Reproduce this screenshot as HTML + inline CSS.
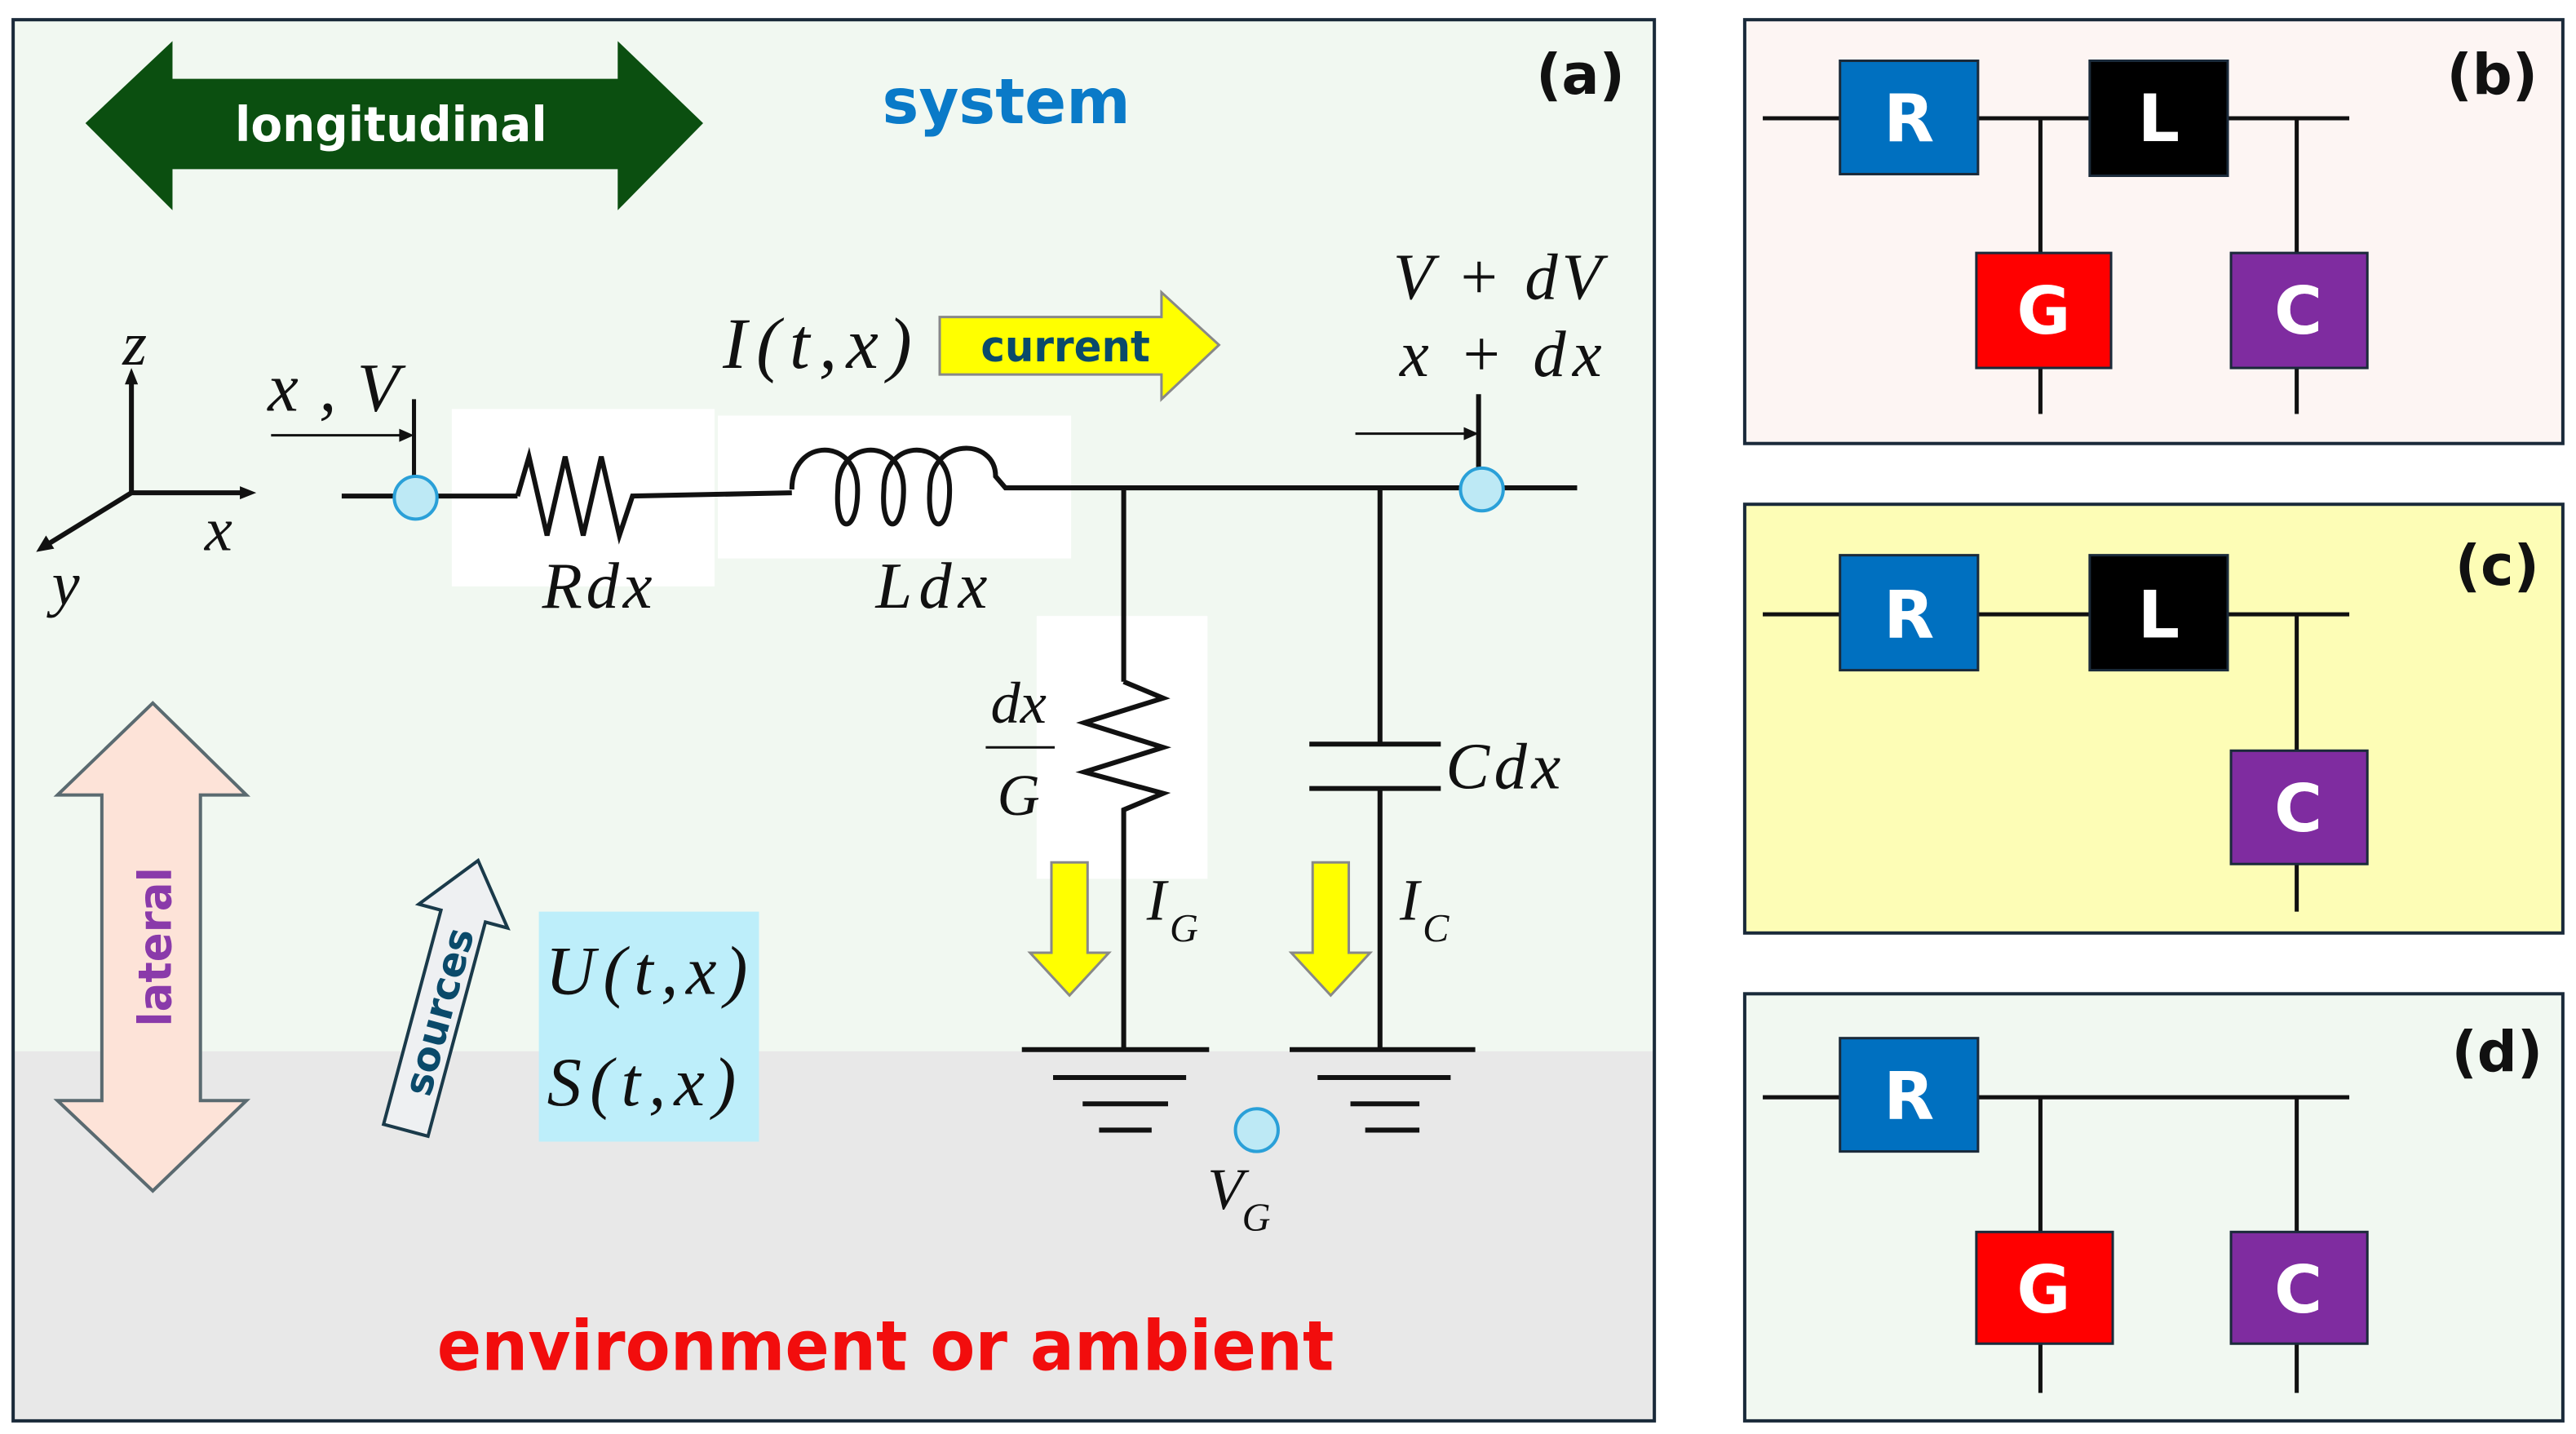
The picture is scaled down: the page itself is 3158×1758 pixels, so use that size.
<!DOCTYPE html>
<html><head><meta charset="utf-8"><style>
html,body{margin:0;padding:0;background:#fff;}
svg{display:block;}
.m{font-family:"Liberation Serif",serif;font-style:italic;fill:#111;}
.b{font-family:"DejaVu Sans","Liberation Sans",sans-serif;font-weight:bold;}
</style></head><body>
<svg width="3158" height="1758" viewBox="0 0 1568 873" preserveAspectRatio="none" xmlns="http://www.w3.org/2000/svg">
<rect width="1568" height="873" fill="#fff"/>
<rect x="8" y="12" width="999" height="853" fill="#f1f8f1"/>
<rect x="8" y="640" width="999" height="225" fill="#e8e8e8"/>
<rect x="8" y="12" width="999" height="853" fill="none" stroke="#1a2a3a" stroke-width="2"/>
<polygon points="52,75 105,25 105,48 376,48 376,25 428,75 376,128 376,103 105,103 105,128" fill="#0b4f10"/>
<text x="143" y="86" class="b" font-size="29" fill="#fff" textLength="190" lengthAdjust="spacingAndGlyphs">longitudinal</text>
<text x="537" y="75" class="b" font-size="38" fill="#0a7ac8" textLength="151" lengthAdjust="spacingAndGlyphs">system</text>
<text x="962" y="57" text-anchor="middle" class="b" font-size="34" fill="#111">(a)</text>
<g stroke="#111" stroke-width="3" fill="none">
<line x1="80" y1="300" x2="80" y2="230"/><line x1="80" y1="300" x2="150" y2="300"/><line x1="80" y1="300" x2="28" y2="332"/>
</g>
<polygon points="80,224 76,234 84,234" fill="#111"/><polygon points="156,300 146,296 146,304" fill="#111"/><polygon points="22,336 28,326 33,334" fill="#111"/>
<text x="82" y="222" class="m" font-size="38" text-anchor="middle">z</text>
<text x="133" y="335" class="m" font-size="38" text-anchor="middle">x</text>
<text x="40" y="368" class="m" font-size="38" text-anchor="middle">y</text>
<text x="163" y="250" class="m" font-size="42" textLength="80" lengthAdjust="spacing">x,V</text>
<line x1="165" y1="265" x2="246" y2="265" stroke="#111" stroke-width="1.5"/><polygon points="252,265 243,261 243,269" fill="#111"/>
<line x1="252" y1="243" x2="252" y2="300" stroke="#111" stroke-width="2.5"/>
<rect x="275" y="249" width="160" height="108" fill="#fff"/>
<rect x="437" y="253" width="215" height="87" fill="#fff"/>
<rect x="631" y="375" width="104" height="160" fill="#fff"/>
<g stroke="#111" stroke-width="3" fill="none">
<line x1="208" y1="302" x2="315" y2="302"/>
<polyline points="315,302 322,278 333,326 344,278 355,326 366,278 377,326 385,302 482,300"/>
<path d="M482,298 C482,266 522,266 522,298 C522,326 508,326 510,298 C510,266 550,266 550,298 C550,326 536,326 538,298 C538,266 578,266 578,298 C578,326 564,326 566,298 C566,266 606,266 606,290 L612,297 L960,297"/>
<line x1="684" y1="297" x2="684" y2="415"/>
<polyline points="684,415 708,425 660,440 708,455 660,470 708,483 684,493 684,638"/>
<line x1="840" y1="297" x2="840" y2="453"/>
<line x1="797" y1="453" x2="877" y2="453"/><line x1="797" y1="480" x2="877" y2="480"/>
<line x1="840" y1="480" x2="840" y2="638"/>
<line x1="622" y1="639" x2="736" y2="639"/><line x1="641" y1="656" x2="722" y2="656"/><line x1="659" y1="672" x2="711" y2="672"/><line x1="669" y1="688" x2="701" y2="688"/>
<line x1="785" y1="639" x2="898" y2="639"/><line x1="802" y1="656" x2="883" y2="656"/><line x1="822" y1="672" x2="864" y2="672"/><line x1="831" y1="688" x2="864" y2="688"/>
<line x1="900" y1="240" x2="900" y2="298"/>
</g>
<line x1="825" y1="264" x2="894" y2="264" stroke="#111" stroke-width="1.5"/><polygon points="900,264 891,260 891,268" fill="#111"/>
<circle cx="253" cy="303" r="13" fill="#bde9f5" stroke="#2aa0d8" stroke-width="2"/>
<circle cx="902" cy="298" r="13" fill="#bde9f5" stroke="#2aa0d8" stroke-width="2"/>
<circle cx="765" cy="688" r="13" fill="#bde9f5" stroke="#2aa0d8" stroke-width="2"/>
<text x="330" y="370" class="m" font-size="40" textLength="67" lengthAdjust="spacing">Rdx</text>
<text x="533" y="370" class="m" font-size="40" textLength="68" lengthAdjust="spacing">Ldx</text>
<text x="440" y="224" class="m" font-size="44" textLength="115" lengthAdjust="spacing">I(t,x)</text>
<polygon points="572,193 707,193 707,178 742,210 707,243 707,228 572,228" fill="#ffff00" stroke="#888" stroke-width="1.5"/>
<text x="597" y="220" class="b" font-size="26" fill="#0a4a6a" textLength="103" lengthAdjust="spacingAndGlyphs">current</text>
<text x="848" y="182" class="m" font-size="40" textLength="127" lengthAdjust="spacing">V + dV</text>
<text x="852" y="229" class="m" font-size="40" textLength="123" lengthAdjust="spacing">x + dx</text>
<text x="620" y="440" class="m" font-size="36" text-anchor="middle">dx</text>
<line x1="600" y1="455" x2="642" y2="455" stroke="#111" stroke-width="1.5"/>
<text x="620" y="496" class="m" font-size="36" text-anchor="middle">G</text>
<text x="880" y="480" class="m" font-size="40" textLength="70" lengthAdjust="spacing">Cdx</text>
<polygon points="640,525 662,525 662,580 675,580 651,606 627,580 640,580" fill="#ffff00" stroke="#888" stroke-width="1.5"/>
<polygon points="799,525 821,525 821,580 834,580 810,606 786,580 799,580" fill="#ffff00" stroke="#888" stroke-width="1.5"/>
<text x="698" y="560" class="m" font-size="36">I</text><text x="712" y="573" class="m" font-size="24">G</text>
<text x="852" y="560" class="m" font-size="36">I</text><text x="866" y="573" class="m" font-size="24">C</text>
<text x="735" y="736" class="m" font-size="36">V</text><text x="756" y="749" class="m" font-size="24">G</text>
<polygon points="93,428 150,484 122,484 122,670 150,670 93,725 35,670 62,670 62,484 35,484" fill="#fde3d8" stroke="#5a6a70" stroke-width="2"/>
<text transform="translate(104,625) rotate(-90)" class="b" font-size="28" fill="#8a3aaa" textLength="97" lengthAdjust="spacingAndGlyphs">lateral</text>
<g transform="translate(269,606) rotate(-75)">
<polygon points="-85,-14 50,-14 50,-28 85,0 50,28 50,14 -85,14" fill="#eef0f2" stroke="#1a3a4a" stroke-width="2"/>
<text x="-10" y="9" text-anchor="middle" class="b" font-size="24" fill="#0a4a6a">sources</text>
</g>
<rect x="328" y="555" width="134" height="140" fill="#bdeefa"/>
<text x="332" y="605" class="m" font-size="42" textLength="123" lengthAdjust="spacing">U(t,x)</text>
<text x="333" y="673" class="m" font-size="42" textLength="115" lengthAdjust="spacing">S(t,x)</text>
<text x="266" y="834" class="b" font-size="42" fill="#f20d0d" textLength="546" lengthAdjust="spacingAndGlyphs">environment or ambient</text>
<rect x="1062" y="12" width="498" height="258" fill="#fdf5f3" stroke="#1a2a3a" stroke-width="2"/>
<rect x="1062" y="307" width="498" height="261" fill="#fdfdb6" stroke="#1a2a3a" stroke-width="2"/>
<rect x="1062" y="605" width="498" height="260" fill="#f1f8f1" stroke="#1a2a3a" stroke-width="2"/>
<g stroke="#111" stroke-width="2.5">
<line x1="1073" y1="72" x2="1430" y2="72"/><line x1="1242" y1="72" x2="1242" y2="252"/><line x1="1398" y1="72" x2="1398" y2="252"/>
<line x1="1073" y1="374" x2="1430" y2="374"/><line x1="1398" y1="374" x2="1398" y2="555"/>
<line x1="1073" y1="668" x2="1430" y2="668"/><line x1="1242" y1="668" x2="1242" y2="848"/><line x1="1398" y1="668" x2="1398" y2="848"/>
</g>
<g stroke="#1a2a3a" stroke-width="1.5">
<rect x="1120" y="37" width="84" height="69" fill="#0070c0"/>
<rect x="1272" y="37" width="84" height="70" fill="#000"/>
<rect x="1203" y="154" width="82" height="70" fill="#ff0000"/>
<rect x="1358" y="154" width="83" height="70" fill="#7f2ca0"/>
<rect x="1120" y="338" width="84" height="70" fill="#0070c0"/>
<rect x="1272" y="338" width="84" height="70" fill="#000"/>
<rect x="1358" y="457" width="83" height="69" fill="#7f2ca0"/>
<rect x="1120" y="632" width="84" height="69" fill="#0070c0"/>
<rect x="1203" y="750" width="83" height="68" fill="#ff0000"/>
<rect x="1358" y="750" width="83" height="68" fill="#7f2ca0"/>
</g>
<g class="b" font-size="40" fill="#fff" text-anchor="middle">
<text x="1162" y="86">R</text><text x="1314" y="86">L</text><text x="1244" y="203">G</text><text x="1399" y="203">C</text>
<text x="1162" y="388">R</text><text x="1314" y="388">L</text><text x="1399" y="506">C</text>
<text x="1162" y="681">R</text><text x="1244" y="799">G</text><text x="1399" y="799">C</text>
</g>
<g class="b" font-size="34" fill="#111" text-anchor="middle">
<text x="1517" y="57">(b)</text><text x="1520" y="356">(c)</text><text x="1520" y="652">(d)</text>
</g>
</svg>
</body></html>
